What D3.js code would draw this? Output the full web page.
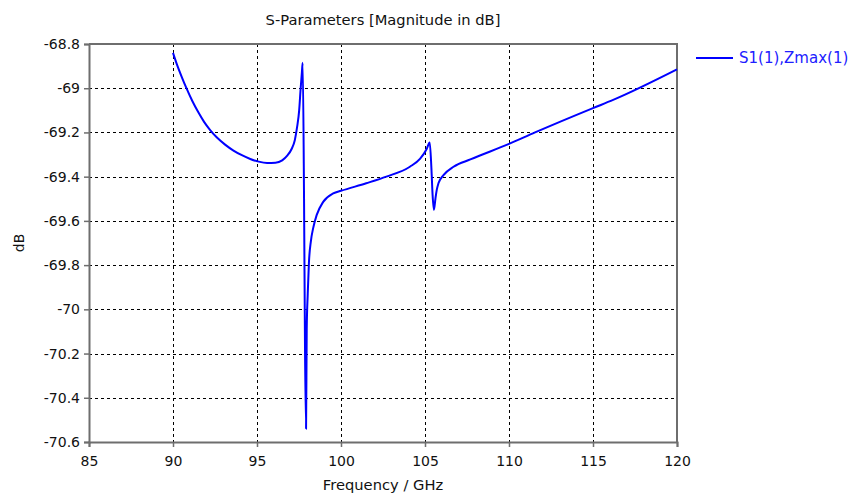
<!DOCTYPE html>
<html>
<head>
<meta charset="utf-8">
<script src="https://cdn.jsdelivr.net/npm/d3@7"></script>
<style>
  body { margin: 0; background: #fff; }
  text { font-family: "DejaVu Sans", Verdana, sans-serif; }
</style>
</head>
<body>
<svg width="851" height="495"></svg>
<script>
// S1(1),Zmax(1) magnitude
var freq = [90, 90.2, 90.5, 90.8, 91.15, 91.5, 91.85, 92.2, 92.6, 93.1, 93.6, 94.1, 94.6, 95.1, 95.6, 96.1, 96.5, 96.8, 97.06, 97.25, 97.39, 97.51, 97.59, 97.67, 97.72,
  97.8, 97.86, 97.92, 97.96, 98.02, 98.09, 98.21, 98.34, 98.55, 98.94, 99.54, 100, 101.5, 102.7, 104.1, 104.7, 105.1, 105.28,
  105.38, 105.45, 105.53, 105.62, 105.7, 105.8, 106.1, 106.7, 107.7, 110, 111.55, 115, 116.2, 120]
var magDb = [-68.84, -68.885, -68.945, -69.0, -69.058, -69.108, -69.152, -69.188, -69.222, -69.255, -69.282, -69.303, -69.32, -69.332, -69.338, -69.337, -69.326, -69.305, -69.275, -69.235, -69.174, -69.1, -69.01, -68.93, -68.885,
  -69.5, -70.2, -70.54, -70.09, -69.93, -69.79, -69.69, -69.634, -69.574, -69.514, -69.476, -69.464, -69.43, -69.4, -69.355, -69.32, -69.275, -69.245,
  -69.36, -69.48, -69.55, -69.5, -69.46, -69.43, -69.393, -69.355, -69.322, -69.252, -69.2, -69.09, -69.053, -68.915]
var xTicks = [85, 90, 95, 100, 105, 110, 115, 120]
var yTicks = [-68.8, -69, -69.2, -69.4, -69.6, -69.8, -70, -70.2, -70.4, -70.6]
var seriesName = "S1(1),Zmax(1)"

var svg = d3.select('svg')
var margin = {left: 89, right: 174, top: 44, bottom: 53}
var width = 851, height = 495
var axisGray = "#6e6e6e"

var x = d3.scaleLinear().domain([85, 120]).range([margin.left, width - margin.right])
var y = d3.scaleLinear().domain([-70.6, -68.8]).range([height - margin.bottom, margin.top])

// grid
svg.append("g")
  .selectAll("line")
  .data(xTicks.slice(1, -1))
  .enter().append("line")
    .attr("x1", d => Math.round(x(d)) + 0.5).attr("x2", d => Math.round(x(d)) + 0.5)
    .attr("y1", y(-68.8)).attr("y2", y(-70.6))
    .attr("stroke", "#000").attr("stroke-dasharray", "3,3")
svg.append("g")
  .selectAll("line")
  .data(yTicks.slice(1, -1))
  .enter().append("line")
    .attr("y1", d => Math.round(y(d)) + 0.5).attr("y2", d => Math.round(y(d)) + 0.5)
    .attr("x1", x(85)).attr("x2", x(120))
    .attr("stroke", "#000").attr("stroke-dasharray", "3,3")

// axes
var xAxis = g => g
  .attr("transform", `translate(0,${height - margin.bottom})`)
  .call(d3.axisBottom(x).tickValues(xTicks).tickSize(5).tickPadding(9).tickFormat(d3.format("d")))
var yAxis = g => g
  .attr("transform", `translate(${margin.left},0)`)
  .call(d3.axisLeft(y).tickValues(yTicks).tickSize(5).tickPadding(4).tickFormat(d => String(+d.toFixed(1))))

svg.append("g").call(xAxis)
svg.append("g").call(yAxis)
svg.selectAll(".domain").attr("stroke", axisGray).attr("stroke-width", 2)
svg.selectAll(".tick line").attr("stroke", axisGray).attr("stroke-width", 1.5)
svg.selectAll(".tick text").attr("fill", "#111").style("font-size", "14px").style("font-family", "DejaVu Sans")

// top and right frame
svg.append("path")
  .attr("d", `M${x(85)},${y(-68.8)}H${x(120)}V${y(-70.6)}`)
  .attr("fill", "none").attr("stroke", axisGray).attr("stroke-width", 2)

// the curve
var line = d3.line()
  .x((d, i) => x(freq[i]))
  .y(d => y(d))
  .curve(d3.curveMonotoneX)
svg.append("path")
  .datum(magDb)
  .attr("fill", "none")
  .attr("stroke", "#0000ff")
  .attr("stroke-width", 2)
  .attr("stroke-linejoin", "round")
  .attr("d", line)

// titles
svg.append("text")
  .attr("x", (x(85) + x(120)) / 2).attr("y", 25)
  .attr("text-anchor", "middle").style("font-size", "14.7px").attr("fill", "#111")
  .text("S-Parameters [Magnitude in dB]")
svg.append("text")
  .attr("x", (x(85) + x(120)) / 2).attr("y", 490)
  .attr("text-anchor", "middle").style("font-size", "14.7px").attr("fill", "#111")
  .text("Frequency / GHz")
svg.append("text")
  .attr("transform", `translate(24,${(y(-68.8) + y(-70.6)) / 2}) rotate(-90)`)
  .attr("text-anchor", "middle").style("font-size", "14px").attr("fill", "#111")
  .text("dB")

// legend
var lg = svg.append("g").attr("transform", "translate(696,58)")
lg.append("line").attr("x1", 0).attr("x2", 37).attr("stroke", "#0000ff").attr("stroke-width", 2)
lg.append("text").attr("x", 43).attr("y", 5).style("font-size", "15px").attr("fill", "#2020ff").text(seriesName)
</script>
</body>
</html>
